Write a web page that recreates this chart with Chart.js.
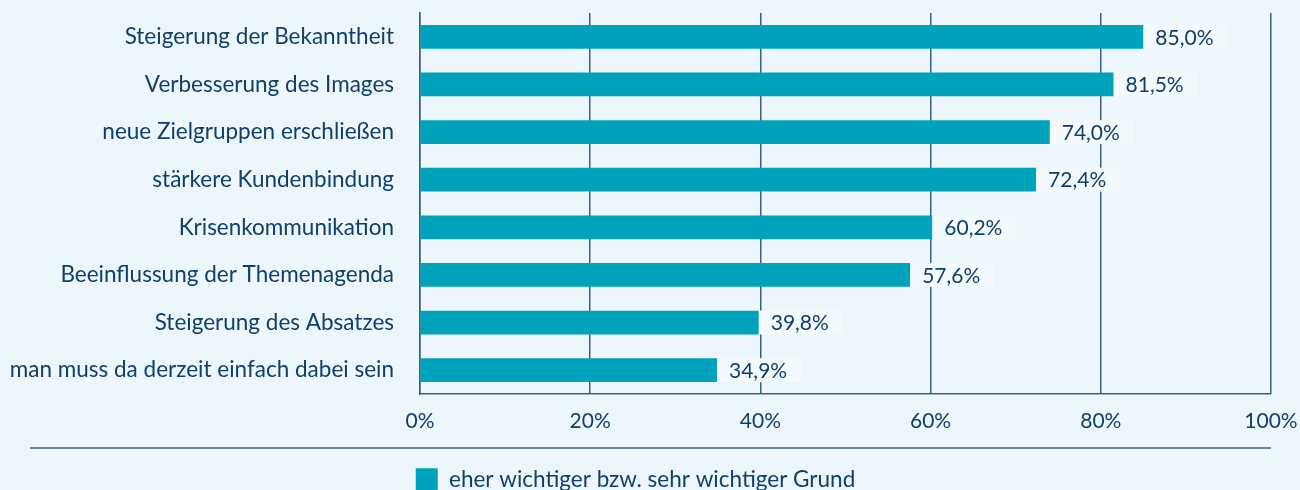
<!DOCTYPE html>
<html>
<head>
<meta charset="utf-8">
<script src="https://cdn.jsdelivr.net/npm/chart.js@4/dist/chart.umd.min.js"></script>
<style>
  html, body { margin: 0; padding: 0; background: #edf6fa; overflow: hidden; }
  #wrap { width: 1300px; height: 490px; position: relative; }
</style>
</head>
<body>
<div id="wrap"><canvas id="c" width="1300" height="490"></canvas></div>
<script>
const categories = [
  "Steigerung der Bekanntheit",
  "Verbesserung des Images",
  "neue Zielgruppen erschließen",
  "stärkere Kundenbindung",
  "Krisenkommunikation",
  "Beeinflussung der Themenagenda",
  "Steigerung des Absatzes",
  "man muss da derzeit einfach dabei sein"
];
const values = [85.0, 81.5, 74.0, 72.4, 60.2, 57.6, 39.8, 34.9];
const seriesName = "eher wichtiger bzw. sehr wichtiger Grund";
const xTicks = [0, 20, 40, 60, 80, 100];

const TEXT = "#0f3f6c";
const GRID = "#3a5f84";
const BAR = "#00a3bb";
const FONT = "Lato";

const fmt = v => v.toFixed(1).replace(".", ",") + "%";

const labelPlugin = {
  id: "valueLabels",
  afterDatasetsDraw(chart) {
    const ctx = chart.ctx;
    const meta = chart.getDatasetMeta(0);
    ctx.save();
    ctx.font = "21px " + FONT;
    ctx.textBaseline = "middle";
    ctx.textAlign = "left";
    meta.data.forEach((el, i) => {
      const txt = fmt(values[i]);
      const w = ctx.measureText(txt).width;
      ctx.fillStyle = "#f4f9fc";
      ctx.fillRect(el.x, el.y - 12, w + 26, 24);
      ctx.fillStyle = TEXT;
      ctx.fillText(txt, el.x + 12, el.y + 1);
    });
    ctx.restore();
  }
};

const sepPlugin = {
  id: "separator",
  afterDraw(chart) {
    const ctx = chart.ctx;
    const xs = chart.scales.x;
    const y = xs.bottom - 20;
    ctx.save();
    ctx.strokeStyle = GRID;
    ctx.lineWidth = 1.5;
    ctx.beginPath();
    ctx.moveTo(30, y);
    ctx.lineTo(chart.chartArea.right, y);
    ctx.stroke();
    ctx.restore();
  }
};

new Chart(document.getElementById("c"), {
  type: "bar",
  data: {
    labels: categories,
    datasets: [{
      label: seriesName,
      data: values,
      backgroundColor: BAR,
      borderWidth: 0,
      barThickness: 23
    }]
  },
  options: {
    indexAxis: "y",
    responsive: false,
    animation: false,
    layout: { padding: { top: 13, right: 29, left: 0, bottom: 0 } },
    scales: {
      x: {
        min: 0, max: 100,
        afterBuildTicks(s) { s.ticks = xTicks.map(v => ({ value: v })); },
        ticks: {
          color: TEXT, font: { family: FONT, size: 21 }, padding: 15,
          callback: v => v + "%"
        },
        grid: { color: GRID, lineWidth: 1.5, drawTicks: false },
        border: { color: GRID, width: 1.5 },
        afterFit(s) { s.height = 74; s.paddingLeft = 0; s.paddingRight = 0; }
      },
      y: {
        ticks: { color: TEXT, font: { family: FONT, size: 22.5 }, padding: 26 },
        grid: { display: false, drawTicks: false },
        border: { color: GRID, width: 1.5 },
        afterFit(s) { s.width = 420; s.paddingTop = 0; s.paddingBottom = 0; }
      }
    },
    plugins: {
      legend: {
        position: "bottom",
        maxHeight: 22,
        labels: {
          color: TEXT, font: { family: FONT, size: 22.5 },
          boxWidth: 22, boxHeight: 22, padding: 0
        }
      },
      tooltip: { enabled: false }
    }
  },
  plugins: [labelPlugin, sepPlugin]
});
</script>
</body>
</html>
